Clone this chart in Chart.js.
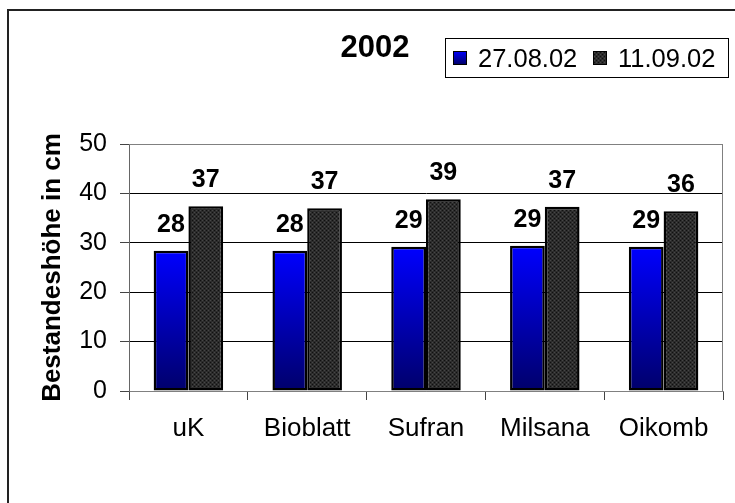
<!DOCTYPE html>
<html>
<head>
<meta charset="utf-8">
<script src="https://cdn.jsdelivr.net/npm/chart.js@4/dist/chart.umd.min.js"></script>
<style>
  html, body { margin: 0; padding: 0; background: #fff; }
  #wrap { width: 735px; height: 503px; }
</style>
</head>
<body>
<div id="wrap"><canvas id="c" width="735" height="503"></canvas></div>
<script>
// ---- data ----
const chartTitle = '2002';
const categories = ['uK', 'Bioblatt', 'Sufran', 'Milsana', 'Oikomb'];
const seriesNames = ['27.08.02', '11.09.02'];
const series1 = [28.4, 28.4, 29.2, 29.4, 29.2];
const series2 = [37.4, 37.0, 38.8, 37.3, 36.4];
const yTitle = 'Bestandeshöhe in cm';
const yMin = 0, yMax = 50, yStep = 10;

const FONT = '"Liberation Sans", Arial, sans-serif';

// dark dotted pattern
function makePattern() {
  const p = document.createElement('canvas');
  p.width = 4; p.height = 4;
  const g = p.getContext('2d');
  g.fillStyle = '#2c2c2c'; g.fillRect(0, 0, 4, 4);
  g.fillStyle = '#101010';
  g.fillRect(0, 0, 1, 1); g.fillRect(2, 2, 1, 1);
  g.fillStyle = '#474747';
  g.fillRect(2, 0, 1, 1); g.fillRect(0, 2, 1, 1);
  return g.createPattern(p, 'repeat');
}
const darkPattern = makePattern();

function blueGrad(chart, yTop, yBot) {
  const g = chart.ctx.createLinearGradient(0, yTop, 0, yBot);
  g.addColorStop(0, '#0000ff');
  g.addColorStop(1, '#00006a');
  return g;
}

const framePlugin = {
  id: 'frame',
  beforeDraw(chart) {
    const c = chart.ctx;
    c.save();
    c.fillStyle = '#fff';
    c.fillRect(0, 0, chart.width, chart.height);
    c.strokeStyle = '#222';
    c.lineWidth = 2;
    c.beginPath();
    c.moveTo(8, chart.height + 10);
    c.lineTo(8, 10);
    c.lineTo(chart.width + 10, 10);
    c.stroke();
    c.restore();
  },
  beforeDatasetsDraw(chart) {
    const a = chart.chartArea, c = chart.ctx;
    c.save();
    c.strokeStyle = '#808080';
    c.lineWidth = 1;
    c.beginPath();
    c.moveTo(a.left, a.top + 0.5);
    c.lineTo(a.right - 0.5, a.top + 0.5);
    c.lineTo(a.right - 0.5, a.bottom);
    c.stroke();
    c.restore();
  },
  afterDatasetsDraw(chart) {
    const c = chart.ctx;
    c.save();
    c.font = 'bold 25px ' + FONT;
    c.fillStyle = '#000';
    c.textAlign = 'center';
    c.textBaseline = 'alphabetic';
    chart.data.datasets.forEach((ds, di) => {
      const meta = chart.getDatasetMeta(di);
      meta.data.forEach((el, i) => {
        c.fillText(String(Math.round(ds.data[i])), el.x, el.y - 19);
      });
    });
    c.restore();
  },
  afterDraw(chart) {
    const c = chart.ctx;
    c.save();
    // title
    c.font = 'bold 31px ' + FONT;
    c.fillStyle = '#000';
    c.textAlign = 'center';
    c.textBaseline = 'alphabetic';
    c.fillText(chartTitle, 375, 57);
    // legend
    c.strokeStyle = '#000';
    c.lineWidth = 1;
    c.strokeRect(445.5, 38.5, 283, 39);
    c.font = '25.5px ' + FONT;
    c.textAlign = 'left';
    const xs = [453, 593];
    chart.data.datasets.forEach((ds, di) => {
      const x = xs[di], y = 51, s = 13;
      c.fillStyle = di === 0 ? blueGrad(chart, y, y + s) : darkPattern;
      c.fillRect(x, y, s, s);
      c.strokeRect(x + 0.5, y + 0.5, s, s);
      c.fillStyle = '#000';
      c.fillText(ds.label, x + 25, 67);
    });
    c.restore();
  }
};

new Chart(document.getElementById('c'), {
  type: 'bar',
  data: {
    labels: categories,
    datasets: [
      {
        label: seriesNames[0],
        data: series1,
        backgroundColor: (ctx) => {
          const ch = ctx.chart;
          if (!ch.chartArea || ctx.type !== 'data') return '#0000cc';
          const y = ch.scales.y;
          return blueGrad(ch, y.getPixelForValue(ctx.raw), y.getPixelForValue(0));
        },
        borderColor: '#000',
        borderWidth: 2.5,
        borderSkipped: false
      },
      {
        label: seriesNames[1],
        data: series2,
        backgroundColor: darkPattern,
        borderColor: '#000',
        borderWidth: 2.5,
        borderSkipped: false
      }
    ]
  },
  options: {
    responsive: false,
    animation: false,
    devicePixelRatio: 1,
    layout: { padding: { left: 0, right: 12, top: 144, bottom: 0 } },
    datasets: { bar: { categoryPercentage: 0.585, barPercentage: 1.0 } },
    plugins: {
      legend: { display: false },
      title: { display: false },
      tooltip: { enabled: false }
    },
    scales: {
      x: {
        grid: {
          offset: true,
          drawOnChartArea: false,
          tickLength: 9,
          color: '#444',
          tickColor: '#444'
        },
        border: { color: '#808080', width: 1 },
        ticks: {
          color: '#000',
          font: { family: FONT, size: 26 },
          padding: 13,
          maxRotation: 0
        },
        afterFit(scale) { scale.height = 112; }
      },
      y: {
        min: yMin,
        max: yMax,
        ticks: {
          stepSize: yStep,
          color: '#000',
          font: { family: FONT, size: 25 },
          padding: 13
        },
        grid: {
          color: (ctx) => (ctx.tick && (ctx.tick.value === yMax || ctx.tick.value === yMin)) ? '#808080' : '#000',
          tickColor: '#444',
          tickLength: 9
        },
        border: { color: '#666', width: 1 },
        title: {
          display: true,
          text: yTitle,
          color: '#000',
          font: { family: FONT, size: 26, weight: 'bold' },
          padding: { top: 37, bottom: 0 }
        },
        afterFit(scale) { scale.width = 129; }
      }
    }
  },
  plugins: [framePlugin]
});
</script>
</body>
</html>
